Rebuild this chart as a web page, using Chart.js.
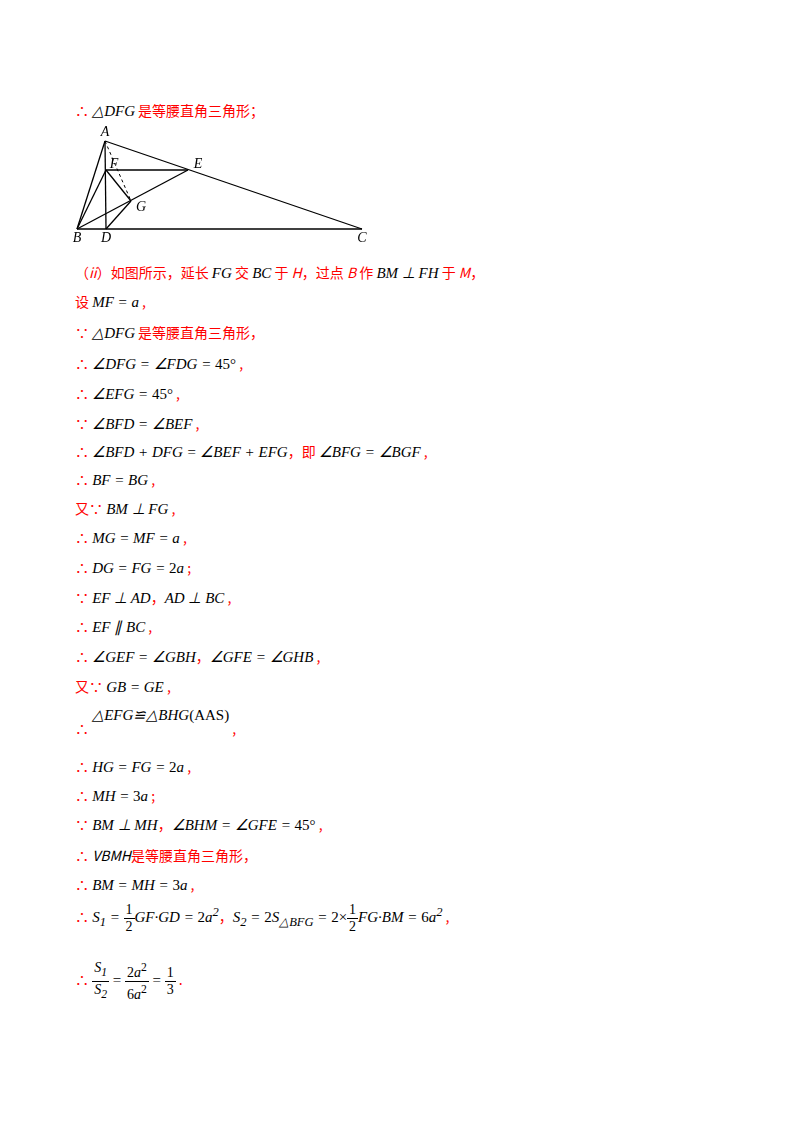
<!DOCTYPE html>
<html><head><meta charset="utf-8">
<script src="https://cdn.jsdelivr.net/npm/chart.js@4"></script>
<style>
body{margin:0;background:#fff;width:800px;height:1132px;position:relative;font-family:"Noto Sans CJK SC",sans-serif;}
.l{position:absolute;left:75px;font-size:14px;color:#f00;white-space:nowrap;}
.m{font-family:"Liberation Serif",serif;font-style:italic;color:#000;font-size:15px;}
.n{font-family:"Liberation Serif",serif;color:#000;font-size:15px;}
#fig{position:absolute;left:65px;top:125px;width:310px;height:125px;}
.frac{display:inline-block;vertical-align:middle;text-align:center;font-family:"Liberation Serif",serif;color:#000;font-size:14px;line-height:16px;}
.frac span{display:block;}
.frac .t{border-bottom:1px solid #000;padding:0 2px;}
</style></head><body>
<div class="l" style="top:100px">∴ <span class="m">△DFG</span> 是等腰直角三角形；</div>
<div id="fig"><canvas id="c"></canvas></div>
<div class="l" style="top:262px">（<i>ii</i>）如图所示，延长 <span class="m">FG</span> 交 <span class="m">BC</span> 于 <i>H</i>，过点 <i>B</i> 作 <span class="m">BM ⊥ FH</span> 于 <i>M</i>，</div>
<div class="l" style="top:291px">设 <span class="m">MF = a</span> ,</div>
<div class="l" style="top:322px">∵ <span class="m">△DFG</span> 是等腰直角三角形，</div>
<div class="l" style="top:353px">∴ <span class="m">∠DFG = ∠FDG = </span><span class="n">45°</span> ,</div>
<div class="l" style="top:383px">∴ <span class="m">∠EFG = </span><span class="n">45°</span> ,</div>
<div class="l" style="top:413px">∵ <span class="m">∠BFD = ∠BEF</span> ,</div>
<div class="l" style="top:441px">∴ <span class="m">∠BFD + DFG = ∠BEF + EFG</span>，即 <span class="m">∠BFG = ∠BGF</span> ,</div>
<div class="l" style="top:469px">∴ <span class="m">BF = BG</span> ,</div>
<div class="l" style="top:498px">又∵ <span class="m">BM ⊥ FG</span> ,</div>
<div class="l" style="top:527px">∴ <span class="m">MG = MF = a</span> ,</div>
<div class="l" style="top:557px">∴ <span class="m">DG = FG = </span><span class="n">2</span><span class="m">a</span> ;</div>
<div class="l" style="top:587px">∵ <span class="m">EF ⊥ AD</span>，<span class="m">AD ⊥ BC</span> ,</div>
<div class="l" style="top:616px">∴ <span class="m">EF ∥ BC</span> ,</div>
<div class="l" style="top:646px">∴ <span class="m">∠GEF = ∠GBH</span>，<span class="m">∠GFE = ∠GHB</span> ,</div>
<div class="l" style="top:676px">又∵ <span class="m">GB = GE</span> ,</div>
<div class="l" style="top:718px">∴<span style="position:relative;top:-14px"> <span class="m">△EFG≌△BHG</span><span class="n">(AAS)</span></span> ,</div>
<div class="l" style="top:756px">∴ <span class="m">HG = FG = </span><span class="n">2</span><span class="m">a</span> ,</div>
<div class="l" style="top:785px">∴ <span class="m">MH = </span><span class="n">3</span><span class="m">a</span> ;</div>
<div class="l" style="top:814px">∵ <span class="m">BM ⊥ MH</span>，<span class="m">∠BHM = ∠GFE = </span><span class="n">45°</span> ,</div>
<div class="l" style="top:845px">∴ <span style="color:#000;font-style:italic">VBMH</span>是等腰直角三角形，</div>
<div class="l" style="top:874px">∴ <span class="m">BM = MH = </span><span class="n">3</span><span class="m">a</span> ,</div>
<div class="l" style="top:902px">∴ <span class="m">S<sub>1</sub> = </span><span class="frac"><span class="t">1</span><span>2</span></span><span class="m">GF·GD = </span><span class="n">2</span><span class="m">a<sup>2</sup></span>，<span class="m">S<sub>2</sub> = </span><span class="n">2</span><span class="m">S<sub>△BFG</sub> = </span><span class="n">2×</span><span class="frac"><span class="t">1</span><span>2</span></span><span class="m">FG·BM = </span><span class="n">6</span><span class="m">a<sup>2</sup></span> ,</div>
<div class="l" style="top:960px">∴ <span class="frac" style="font-style:italic"><span class="t">S<sub>1</sub></span><span>S<sub>2</sub></span></span><span class="n"> = </span><span class="frac"><span class="t">2<i>a</i><sup>2</sup></span><span>6<i>a</i><sup>2</sup></span></span><span class="n"> = </span><span class="frac"><span class="t">1</span><span>3</span></span> .</div>
<script>
// point coordinates of the figure (page-ish units, y down)
const pointNames = ['A','B','D','C','F','E','G'];
const pointX = [105, 77, 106, 362, 106, 188, 131];
const pointY = [141, 229, 229, 229, 170, 170, 201];
const segments = [['A','B'],['A','C'],['B','C'],['A','D'],['F','E'],['B','F'],['B','E'],['F','G'],['D','G']];
const dashedSegments = [['A','G']];
const labelOffsets = {A:[0,-9],B:[0,9],D:[0,9],C:[0,9],F:[8,-6],E:[10,-6],G:[10,6]};

const pt = n => { const i = pointNames.indexOf(n); return {x: pointX[i], y: pointY[i]}; };
const ds = [];
segments.forEach(s => ds.push({data: s.map(pt), showLine: true, borderColor: '#000', borderWidth: 1.3, pointRadius: 0}));
dashedSegments.forEach(s => ds.push({data: s.map(pt), showLine: true, borderColor: '#000', borderWidth: 1, borderDash: [3, 3], pointRadius: 0}));

const labelPlugin = {
  id: 'labels',
  afterDatasetsDraw(chart) {
    const {ctx, scales: {x, y}} = chart;
    ctx.save();
    ctx.font = 'italic 14px "Liberation Serif"';
    ctx.fillStyle = '#000';
    ctx.textAlign = 'center'; ctx.textBaseline = 'middle';
    pointNames.forEach((n, i) => {
      const o = labelOffsets[n];
      ctx.fillText(n, x.getPixelForValue(pointX[i]) + o[0], y.getPixelForValue(pointY[i]) + o[1]);
    });
    ctx.restore();
  }
};

new Chart(document.getElementById('c'), {
  type: 'scatter',
  data: {datasets: ds},
  options: {
    responsive: true, maintainAspectRatio: false, animation: false,
    layout: {padding: 0},
    plugins: {legend: {display: false}, tooltip: {enabled: false}},
    scales: {
      x: {type: 'linear', min: 65, max: 375, display: false},
      y: {type: 'linear', min: 125, max: 250, reverse: true, display: false}
    }
  },
  plugins: [labelPlugin]
});
</script>
</body></html>
